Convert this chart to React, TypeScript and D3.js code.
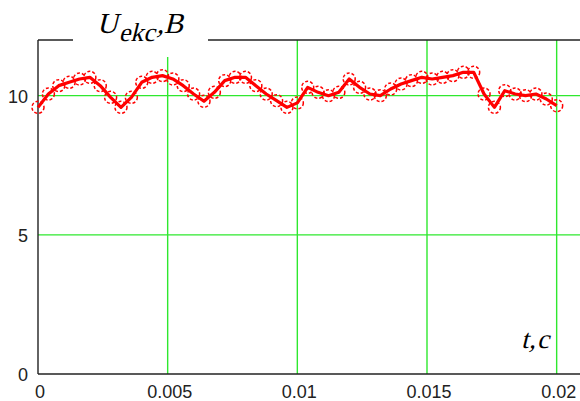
import React from 'react';
import * as d3 from 'd3';

// sampled voltage, step 0.0004 s
const times: number[] = d3.range(51).map((i) => +(i * 0.0004).toFixed(4));
const volts: number[] = [
  9.58, 10.06, 10.36, 10.48, 10.6, 10.66, 10.36, 9.94, 9.58, 9.94,
  10.48, 10.66, 10.72, 10.6, 10.36, 10.06, 9.8, 10.12, 10.54, 10.66,
  10.66, 10.36, 10.06, 9.82, 9.58, 9.74, 10.3, 10.12, 10.0, 10.12,
  10.6, 10.3, 10.06, 10.0, 10.24, 10.42, 10.54, 10.66, 10.6, 10.66,
  10.72, 10.84, 10.84, 10.06, 9.58, 10.18, 10.06, 10.0, 10.06, 9.88,
  9.64,
];
const xTicks = [0, 0.005, 0.01, 0.015, 0.02];
const xTickLabels = ['0', '0.005', '0.01', '0.015', '0.02'];
const yTicks = [0, 5, 10];

const W = 580;
const H = 401;

export default function App() {
  const x = d3.scaleLinear().domain([0, 0.021]).range([38, 38 + 0.021 * 25933]);
  const y = d3.scaleLinear().domain([0, 12]).range([374, 40]);

  const pts = times.map((t, i) => [t, volts[i]] as [number, number]);
  const line = d3.line<[number, number]>()
    .x((d) => x(d[0]))
    .y((d) => y(d[1]));

  const green = '#2ee82e';
  const axisFont = { fontFamily: 'Liberation Sans, Arial, sans-serif' };
  const serif = { fontFamily: "'Times New Roman', 'Liberation Serif', 'DejaVu Serif', serif" };

  // italic look made by skewing upright serif glyphs around the baseline
  const skew = (bx: number, by: number) => `translate(${bx},${by}) skewX(-14) translate(${-bx},${-by})`;

  return (
    <svg width={W} height={H} style={{ position: 'absolute', left: 0, top: 0, background: '#fff' }}>
      {/* grid */}
      {xTicks.filter((t) => t > 0).map((t) => (
        <line key={'gx' + t} x1={x(t)} x2={x(t)} y1={y(12)} y2={y(0)} stroke={green} strokeWidth={1.4} />
      ))}
      {yTicks.filter((v) => v > 0).map((v) => (
        <line key={'gy' + v} x1={x(0)} x2={W} y1={y(v)} y2={y(v)} stroke={green} strokeWidth={1.4} />
      ))}

      {/* frame */}
      <line x1={x(0)} x2={x(0)} y1={y(12)} y2={y(0)} stroke="#222" strokeWidth={1.4} />
      <line x1={x(0)} x2={W} y1={y(0)} y2={y(0)} stroke="#222" strokeWidth={1.4} />
      <line x1={x(0)} x2={W} y1={y(12)} y2={y(12)} stroke="#222" strokeWidth={1.6} />

      {/* title box */}
      <rect x={73} y={0} width={135} height={57} fill="#fff" />
      <g transform={skew(130, 36)}>
        <text style={serif} fill="#000">
          <tspan x={96} y={33} fontSize={29}>U</tspan>
          <tspan x={120} y={41} fontSize={26}>ekc</tspan>
          <tspan x={156} y={33} fontSize={29}>,</tspan>
          <tspan x={163} y={33} fontSize={29}>B</tspan>
        </text>
      </g>

      {/* series */}
      <path d={line(pts) ?? ''} fill="none" stroke="#ff0000" strokeWidth={3.2} strokeLinejoin="round" />
      {pts.map((d, i) => (
        <circle key={i} cx={x(d[0])} cy={y(d[1])} r={6} fill="none" stroke="#ff0000"
          strokeWidth={1.5} strokeDasharray="3,2" />
      ))}

      {/* axis label */}
      <g transform={skew(535, 348)}>
        <text style={serif} fontSize={27} fill="#000">
          <tspan x={521} y={348}>t</tspan>
          <tspan x={529} y={348}>,</tspan>
          <tspan x={537} y={348}>c</tspan>
        </text>
      </g>

      {/* tick labels */}
      {yTicks.map((v) => (
        <text key={'yl' + v} x={28} y={y(v) + 7} textAnchor="end" style={axisFont} fontSize={18} fill="#222">
          {v}
        </text>
      ))}
      {xTicks.map((t, i) => (
        <text key={'xl' + t} x={x(t) + 2} y={398} textAnchor="middle" style={axisFont} fontSize={18} fill="#222">
          {xTickLabels[i]}
        </text>
      ))}
    </svg>
  );
}
